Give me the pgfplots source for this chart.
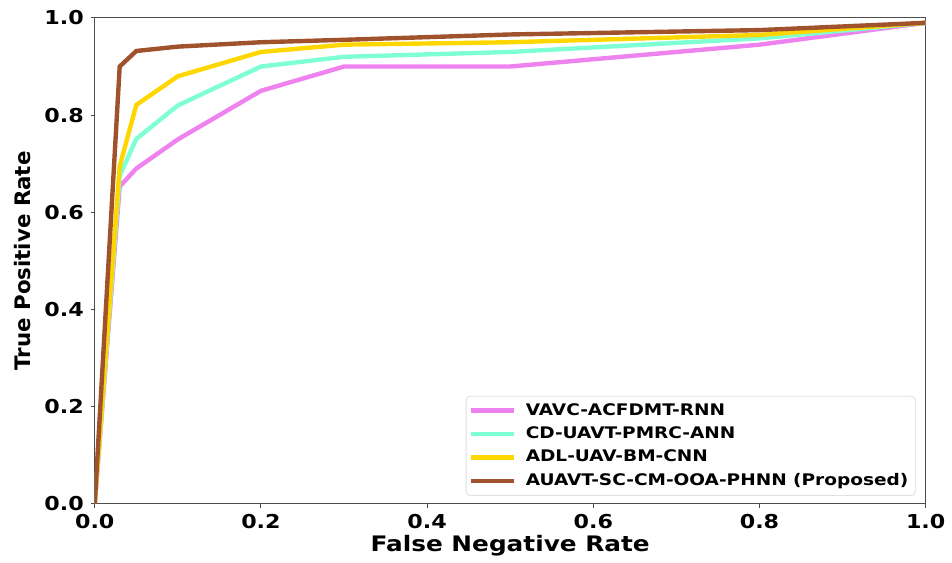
\documentclass[border=0pt]{standalone}
\usepackage{pgfplots}
\pgfplotsset{compat=1.18}
\usepackage{fontspec}
\setmainfont{DejaVu Sans}[FakeStretch=1.16]
\newfontfamily\plainfont{DejaVu Sans}
\definecolor{cviolet}{RGB}{238,130,238}
\definecolor{caqua}{RGB}{127,255,212}
\definecolor{cgold}{RGB}{255,215,0}
\definecolor{csienna}{RGB}{160,82,45}
\begin{document}
\begin{tikzpicture}
\begin{axis}[
  scale only axis,
  width=416.5pt, height=243.5pt,
  xmin=0, xmax=1, ymin=0, ymax=1,
  xtick={0,0.2,...,1.0}, ytick={0,0.2,...,1.0},
  /pgf/number format/assume math mode=true,
  /pgf/number format/fixed, /pgf/number format/fixed zerofill, /pgf/number format/precision=1,
  ticklabel style={font=\fontsize{9.6}{11}\selectfont\bfseries},
  tick align=outside, tick pos=left,
  major tick length=2pt,
  tick style={black!70, line width=0.5pt},
  axis line style={black!70, line width=0.5pt},
  xlabel={False Negative Rate}, ylabel={True Positive Rate},
  xlabel style={font=\fontsize{10.7}{12}\selectfont\bfseries, yshift=4pt},
  ylabel style={font=\plainfont\fontsize{10.7}{12}\selectfont\bfseries, yshift=0pt},
  legend style={at={(0.988,0.016)}, anchor=south east, font=\fontsize{8.0}{9.5}\selectfont\bfseries,
    draw=black!12, rounded corners=2pt, row sep=0.3pt, inner xsep=1.5pt, inner ysep=1.5pt},
  legend cell align=left,
  legend image code/.code={\draw[#1, line width=2.2pt] (0cm,0cm) -- (0.75cm,0cm); \path (0.85cm,0cm);},
  every axis plot/.append style={line width=2.2pt},
]
\addplot[cviolet] coordinates {(0,0) (0.03,0.653) (0.05,0.69) (0.1,0.75) (0.2,0.85) (0.3,0.90) (0.5,0.90) (0.8,0.945) (1,0.99)};
\addlegendentry{VAVC-ACFDMT-RNN}
\addplot[caqua] coordinates {(0,0) (0.03,0.675) (0.05,0.751) (0.1,0.82) (0.2,0.90) (0.3,0.92) (0.5,0.93) (0.8,0.958) (1,0.99)};
\addlegendentry{CD-UAVT-PMRC-ANN}
\addplot[cgold] coordinates {(0,0) (0.03,0.695) (0.05,0.821) (0.1,0.88) (0.2,0.93) (0.3,0.945) (0.5,0.95) (0.8,0.965) (1,0.99)};
\addlegendentry{ADL-UAV-BM-CNN}
\addplot[csienna] coordinates {(0,0) (0.03,0.90) (0.05,0.932) (0.1,0.941) (0.2,0.95) (0.3,0.955) (0.5,0.966) (0.8,0.975) (1,0.99)};
\addlegendentry{AUAVT-SC-CM-OOA-PHNN (Proposed)}
\end{axis}
\path ([xshift=-47.5pt]current axis.south west) -- ([yshift=9pt]current axis.north east);
\end{tikzpicture}
\end{document}
